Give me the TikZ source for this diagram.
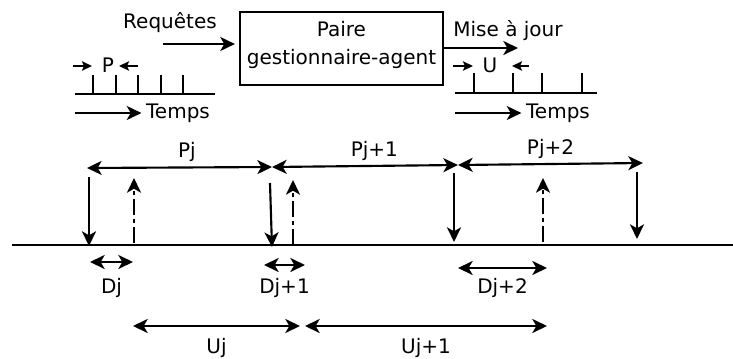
\documentclass[tikz,border=0pt]{standalone}
\usepackage{fontspec}
\setmainfont{DejaVu Sans}
\usetikzlibrary{arrows.meta,positioning}
\tikzset{
  fl/.style={-{Stealth[length=11pt,width=10.5pt,inset=3pt]},line width=1.6pt},
  fln/.style={-{Stealth[length=7.5pt,width=7pt,inset=1.5pt]},line width=1.6pt},
  dbl/.style={{Stealth[length=11pt,width=10.5pt,inset=3pt]}-{Stealth[length=11pt,width=10.5pt,inset=3pt]},line width=1.6pt},
  mixte/.style={fl,dash pattern=on 12pt off 3pt on 3pt off 3pt},
  trait/.style={line width=1.6pt},
  boite/.style={draw,line width=1.6pt,minimum width=152.25pt,minimum height=54.75pt}
}

\begin{document}
\begin{tikzpicture}[x=0.75pt,y=-0.75pt,font=\fontsize{15}{21}\selectfont]
\useasboundingbox (0,0) rectangle (733,358);
\node[boite] (pga) at (341.5,48.5) {};
\node[align=center] (pgatxt) at ([yshift=3pt]pga.center) {Paire\\gestionnaire-agent};
\node (req) at (170,23) {Requêtes};
\node (maj) at (508,31) {Mise à jour};
\coordinate (rq) at (163,44);
\coordinate (mj) at (518,48);
\draw[fl,shorten >=3pt] (rq) -- (rq -| pga.west);
\draw[fl] (mj -| pga.east) -- (mj);

\draw[trait] (75,94) -- (215,94);
\foreach \x in {93,116,138,161,183} \draw[trait] (\x,94) -- (\x,75);
\node (P) at (108,65) {P};
\coordinate (pa) at (73,66); \coordinate (pb) at (92,66);
\coordinate (pc) at (138,66); \coordinate (pd) at (119,66);
\draw[fln] (pa) -- (pb);
\draw[fln] (pc) -- (pd);
\node (temps1) at (178,113) {Temps};
\coordinate (ta) at (75,113);
\draw[fl] (ta) -- (temps1.west);

\draw[trait] (455,93) -- (597,93);
\foreach \x in {474,513,542,582} \draw[trait] (\x,93) -- (\x,73);
\node (U) at (490,65) {U};
\coordinate (ua) at (453,66); \coordinate (ub) at (473,66);
\coordinate (uc) at (529,66); \coordinate (ud) at (512,66);
\draw[fln] (ua) -- (ub);
\draw[fln] (uc) -- (ud);
\node (temps2) at (558,113) {Temps};
\coordinate (tb) at (455,113);
\draw[fl] (tb) -- (temps2.west);

\draw[trait] (12,245) -- (733,245);
\coordinate (p0) at (87,168);
\coordinate (p1) at (272,167);
\coordinate (p2) at (458,165);
\coordinate (p3) at (643,163);
\draw[dbl] (p0) -- node[above,pos=.54] {Pj} (p1);
\draw[dbl] (p1) -- node[above,pos=.55] {Pj+1} (p2);
\draw[dbl] (p2) -- node[above] {Pj+2} (p3);

\foreach \n/\xa/\ya/\xb/\yb in {1/89/177/89/246, 2/270/183/272/247, 3/454/173/454/242, 4/637/172/637/239}{
  \coordinate (ha\n) at (\xa,\ya); \coordinate (hb\n) at (\xb,\yb);
  \draw[fl] (ha\n) -- (hb\n);
}
\foreach \n/\x/\ya/\yb in {1/134/243/178, 2/293/245/180, 3/543/242/178}{
  \coordinate (ma\n) at (\x,\ya); \coordinate (mb\n) at (\x,\yb);
  \draw[mixte] (ma\n) -- (mb\n);
}

\foreach \n/\xa/\xb/\y/\t in {1/90/133/262/Dj, 2/264/305/265/Dj+1, 3/458/547/268/Dj+2}{
  \coordinate (da\n) at (\xa,\y); \coordinate (db\n) at (\xb,\y);
  \draw[dbl] (da\n) -- (db\n);
  \node (dl\n) at ({(\xa+\xb)/2},288) {\t};
}
\foreach \n/\xa/\xb/\t in {1/133/300/Uj, 2/305/547/Uj+1}{
  \coordinate (ua\n) at (\xa,326); \coordinate (ub\n) at (\xb,326);
  \draw[dbl] (ua\n) -- (ub\n);
  \node (ul\n) at ({(\xa+\xb)/2},348) {\t};
}
\end{tikzpicture}
\end{document}
